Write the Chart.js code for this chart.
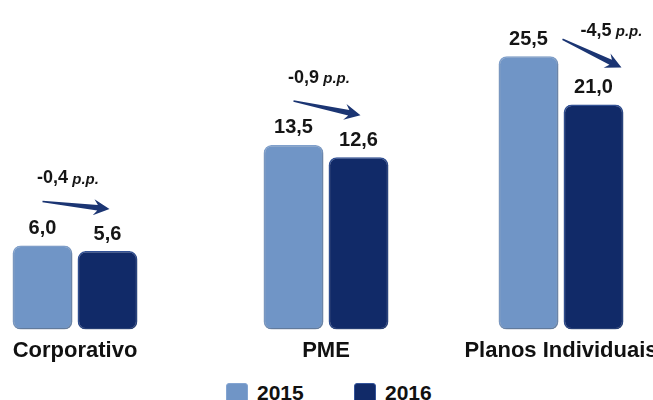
<!DOCTYPE html>
<html>
<head>
<meta charset="utf-8">
<script src="https://cdn.jsdelivr.net/npm/chart.js@4.4.1/dist/chart.umd.min.js"></script>
<style>
  body { margin: 0; width: 653px; height: 400px; overflow: hidden; background: #fff; position: relative; font-family: Arial, "Liberation Sans", sans-serif; }
  .box { position: absolute; top: 0; width: 210px; height: 364px; }
  .sw { position: absolute; top: 383px; width: 22px; height: 22px; border-radius: 3px; box-sizing: border-box; }
  .lt { position: absolute; top: 382px; font-size: 21px; line-height: 21px; font-weight: bold; color: #111; }
</style>
</head>
<body>
<div class="box" style="left:-30px"><canvas id="c0" width="210" height="364"></canvas></div>
<div class="box" style="left:221px"><canvas id="c1" width="210" height="364"></canvas></div>
<div class="box" style="left:456px"><canvas id="c2" width="210" height="364"></canvas></div>
<div id="legend"></div>
<script>
const categories = ["Corporativo", "PME", "Planos Individuais"];
const seriesNames = ["2015", "2016"];
const values2015 = [6.0, 13.5, 25.5];
const values2016 = [5.6, 12.6, 21.0];

// each group in the original slide has its own vertical scale
const groupMax = [23.5, 24.1, 30.75];
const arrowLayout = ["above", "above", "side"];

const colors = ["#7095c6", "#112a68"];
const borders = ["#84a5d2", "#34549b"];

function fmt(v) {
    return v.toFixed(1).replace(".", ",");
}

function drawArrow(ctx, x1, y1, x2, y2) {
    let dx = x2 - x1, dy = y2 - y1;
    let len = Math.sqrt(dx * dx + dy * dy);
    let ux = dx / len, uy = dy / len;
    let nx = -uy, ny = ux;
    let headLen = 16, headW = 8;
    let bx = x2 - ux * headLen, by = y2 - uy * headLen;
    let cx = x2 - ux * (headLen - 4), cy = y2 - uy * (headLen - 4);
    ctx.beginPath();
    ctx.moveTo(x1 + nx * 0.8, y1 + ny * 0.8);
    ctx.lineTo(cx + nx * 2.8, cy + ny * 2.8);
    ctx.lineTo(bx + nx * headW, by + ny * headW);
    ctx.lineTo(x2, y2);
    ctx.lineTo(bx - nx * headW, by - ny * headW);
    ctx.lineTo(cx - nx * 2.8, cy - ny * 2.8);
    ctx.lineTo(x1 - nx * 0.8, y1 - ny * 0.8);
    ctx.closePath();
    ctx.fill();
}

function drawChange(ctx, text, x, y) {
    ctx.font = "bold 18px Arial";
    let w1 = ctx.measureText(text).width;
    ctx.font = "italic bold 15px Arial";
    let w2 = ctx.measureText(" p.p.").width;
    let left = x - (w1 + w2) / 2;
    ctx.textAlign = "left";
    ctx.font = "bold 18px Arial";
    ctx.fillText(text, left, y);
    ctx.font = "italic bold 15px Arial";
    ctx.fillText(" p.p.", left + w1, y + 1);
}

const barDecor = {
    id: "barDecor",
    beforeDatasetsDraw(chart) {
        let ctx = chart.ctx;
        ctx.save();
        ctx.shadowColor = "rgba(0,0,0,0.35)";
        ctx.shadowBlur = 4;
        ctx.shadowOffsetX = 1;
        ctx.shadowOffsetY = 2;
    },
    afterDatasetsDraw(chart, args, opts) {
        let ctx = chart.ctx;
        ctx.restore();
        let bars = chart.data.datasets.map((ds, i) => chart.getDatasetMeta(i).data[0]);
        let labelY = bars.map(b => b.y - 17);
        ctx.save();
        ctx.fillStyle = "#151515";
        ctx.textBaseline = "middle";
        ctx.textAlign = "center";
        ctx.font = "bold 20px Arial";
        chart.data.datasets.forEach((ds, i) => ctx.fillText(fmt(ds.data[0]), bars[i].x, labelY[i]));

        let change = chart.data.datasets[1].data[0] - chart.data.datasets[0].data[0];
        let text = (change < 0 ? "-" : "+") + fmt(Math.abs(change));
        ctx.fillStyle = "#1b3573";
        if (opts.layout === "side") {
            drawArrow(ctx, bars[0].x + 34, labelY[0], bars[1].x + 28, labelY[1] - 20);
            ctx.fillStyle = "#151515";
            drawChange(ctx, text, bars[1].x + 18, labelY[0] - 8);
        } else {
            drawArrow(ctx, bars[0].x, labelY[0] - 27, bars[1].x + 2, labelY[1] - 25);
            ctx.fillStyle = "#151515";
            drawChange(ctx, text, (bars[0].x + bars[1].x) / 2 - 7, labelY[0] - 50);
        }
        ctx.restore();
    }
};

categories.forEach((cat, i) => {
    new Chart(document.getElementById("c" + i), {
        type: "bar",
        data: {
            labels: [cat],
            datasets: [
                { label: seriesNames[0], data: [values2015[i]], backgroundColor: colors[0], borderColor: borders[0], borderWidth: 1.5, borderRadius: 8, borderSkipped: false },
                { label: seriesNames[1], data: [values2016[i]], backgroundColor: colors[1], borderColor: borders[1], borderWidth: 1.5, borderRadius: 8, borderSkipped: false }
            ]
        },
        options: {
            responsive: false,
            maintainAspectRatio: false,
            animation: false,
            layout: { padding: 0 },
            categoryPercentage: 130 / 210,
            barPercentage: 0.92,
            plugins: {
                legend: { display: false },
                tooltip: { enabled: false },
                barDecor: { layout: arrowLayout[i] }
            },
            scales: {
                x: {
                    grid: { display: false },
                    border: { display: false },
                    ticks: {
                        color: "#111",
                        padding: 0,
                        maxRotation: 0,
                        autoSkip: false,
                        font: { family: "Arial", size: 22, weight: "bold" }
                    }
                },
                y: { display: false, min: 0, max: groupMax[i] }
            }
        },
        plugins: [barDecor]
    });
});

let legend = document.getElementById("legend");
let legendX = [226, 354];
seriesNames.forEach((name, i) => {
    let sw = document.createElement("span");
    sw.className = "sw";
    sw.style.left = legendX[i] + "px";
    sw.style.background = colors[i];
    sw.style.border = "1px solid " + borders[i];
    legend.appendChild(sw);
    let lt = document.createElement("span");
    lt.className = "lt";
    lt.style.left = (legendX[i] + 31) + "px";
    lt.textContent = name;
    legend.appendChild(lt);
});
</script>
</body>
</html>
